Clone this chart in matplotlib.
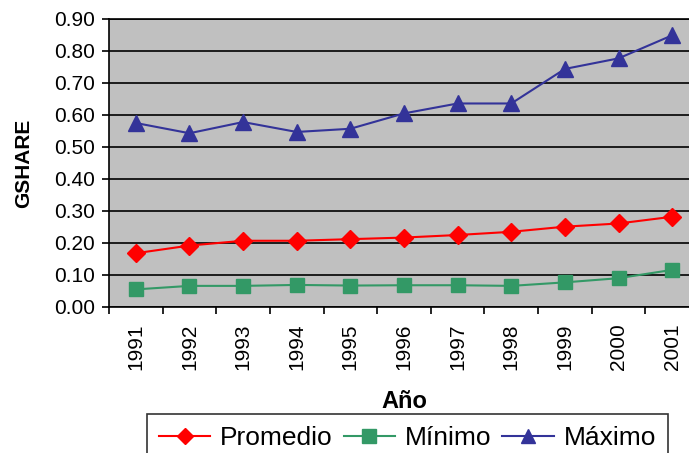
import numpy as np
import matplotlib
matplotlib.use("Agg")
import matplotlib.pyplot as plt

plt.rcParams['font.family'] = ['Liberation Sans', 'DejaVu Sans']

# GSHARE por año
years = ["1991", "1992", "1993", "1994", "1995", "1996",
         "1997", "1998", "1999", "2000", "2001"]
promedio = [0.168, 0.192, 0.207, 0.207, 0.212, 0.217, 0.225, 0.235, 0.251, 0.261, 0.282]
minimo = [0.055, 0.066, 0.066, 0.069, 0.067, 0.068, 0.068, 0.066, 0.077, 0.090, 0.116]
maximo = [0.575, 0.543, 0.578, 0.547, 0.557, 0.605, 0.636, 0.636, 0.744, 0.777, 0.849]

fig = plt.figure(figsize=(6.89, 4.53), dpi=100)
ax = fig.add_axes([109/689, 1 - 307/453, 590/689, 288/453])
ax.set_facecolor('#c0c0c0')

x = np.arange(len(years))
ax.plot(x, promedio, color='#ff0000', marker='D', ms=9, lw=1.5, label='Promedio')
ax.plot(x, minimo, color='#339966', marker='s', ms=10, lw=1.5, label='Mínimo')
ax.plot(x, maximo, color='#333399', marker='^', ms=11, lw=1.5, label='Máximo')

ax.set_xlim(-0.5, len(years) - 0.5)
ax.set_ylim(0, 0.9)
yt = np.arange(0, 0.91, 0.1)
ax.set_yticks(yt)
ax.set_yticklabels([f"{v:.2f}" for v in yt], fontsize=15)
ax.yaxis.grid(True, color='black', lw=1.2)
ax.set_axisbelow(True)

ax.set_xticks(x)
ax.set_xticklabels(years, rotation=90, fontsize=15)
ax.set_xticks(np.arange(-0.5, len(years)), minor=True)
ax.tick_params(axis='x', which='major', length=0, pad=12)
ax.tick_params(axis='x', which='minor', length=5, width=1.2)
ax.tick_params(axis='y', length=5, width=1.2, pad=5)
for s in ax.spines.values():
    s.set_linewidth(1.2)

ax.set_ylabel('GSHARE', fontsize=15, fontweight='bold', labelpad=15)
ax.set_xlabel('Año', fontsize=17, fontweight='bold', labelpad=14)

leg = fig.legend(loc='upper left', bbox_to_anchor=(147/689, 1 - 414/453),
                 ncol=3, fontsize=19, frameon=True, fancybox=False,
                 edgecolor='black', handlelength=1.95, columnspacing=0.4,
                 handletextpad=0.38, borderpad=0.45, borderaxespad=0,
                 markerscale=0.95)
leg.get_frame().set_linewidth(1.2)

fig.savefig('out.png', dpi=100)
